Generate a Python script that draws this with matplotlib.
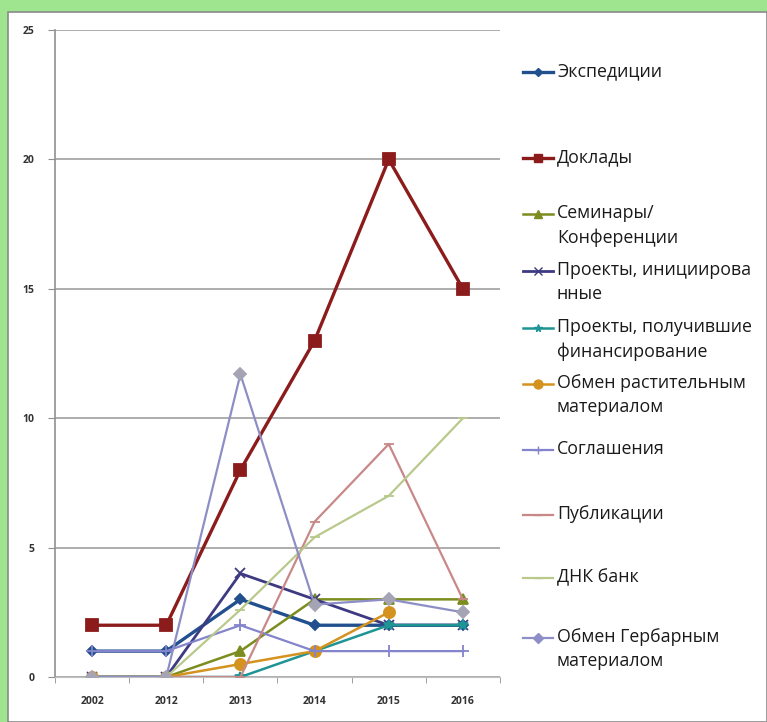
import numpy as np
import matplotlib.pyplot as plt
from matplotlib.patches import Rectangle

plt.rcParams['font.family'] = ['Open Sans', 'DejaVu Sans']

# ---- data
years = ["2002", "2012", "2013", "2014", "2015", "2016"]

expeditions = [1, 1, 3, 2, 2, 2]
reports = [2, 2, 8, 13, 20, 15]
seminars = [0, 0, 1, 3, 3, 3]
projects_init = [0, 0, 4, 3, 2, 2]
projects_funded = [0, 0, 0, 1, 2, 2]
plant_exchange = [0, 0, 0.5, 1, 2.5, np.nan]
agreements = [1, 1, 2, 1, 1, 1]
publications = [0, 0, 0, 6, 9, 3]
dna_bank = [0, 0, 2.6, 5.4, 7, 10]
herbarium_exchange = [0, 0, 11.7, 2.8, 3, 2.5]

series = [
    ("Экспедиции", expeditions, "#22508e", "D", 2.4, 5),
    ("Доклады", reports, "#8c1c1c", "s", 2.4, 8),
    ("Семинары/\nКонференции", seminars, "#7d8c1e", "^", 1.8, 7),
    ("Проекты, инициирова\nнные", projects_init, "#3e3a82", "x", 2.0, 7),
    ("Проекты, получившие\nфинансирование", projects_funded, "#1e9494", "*", 1.8, 7),
    ("Обмен растительным\nматериалом", plant_exchange, "#d4921e", "o", 1.8, 8),
    ("Соглашения", agreements, "#8484cc", "+", 1.6, 8),
    ("Публикации", publications, "#c98888", "_", 1.6, 7),
    ("ДНК банк", dna_bank, "#b9c98c", "_", 1.6, 7),
    ("Обмен Гербарным\nматериалом", herbarium_exchange, "#8e8ec6", "D", 1.6, 6),
]
marker_face = {9: "#a4a4b4"}

# legend key rows (pixel y of first text line)
legend_rows = [72, 158, 214, 271, 328, 384, 450, 515, 578, 638]

W, H = 767, 722
fig = plt.figure(figsize=(W / 100, H / 100), dpi=100)
fig.patch.set_facecolor("#9fe48e")

bg = fig.add_axes([0, 0, 1, 1])
bg.set_xlim(0, W)
bg.set_ylim(H, 0)
bg.axis("off")
bg.add_patch(Rectangle((8, 12), W - 8, H - 12, facecolor="white", edgecolor="#8a8a8a", lw=1.2))

ax = fig.add_axes([55 / W, 1 - 677 / H, 445 / W, 647 / H])
ax.set_facecolor("none")
x = np.arange(len(years))
for i, (name, vals, color, mk, lw, ms) in enumerate(series):
    ax.plot(x, vals, color=color, lw=lw, marker=mk, markersize=ms,
            markerfacecolor=marker_face.get(i, color),
            markeredgecolor=marker_face.get(i, color), markeredgewidth=1.3, zorder=3 + i)

ax.set_xlim(-0.5, len(years) - 0.5)
ax.set_ylim(0, 25)
ax.set_yticks([0, 5, 10, 15, 20, 25])
ax.set_xticks(x)
ax.set_xticklabels(years)
ax.set_xticks(np.arange(-0.5, len(years), 1), minor=True)
ax.tick_params(axis="x", which="major", length=0, pad=14, labelsize=7.5, labelcolor="#333333")
ax.tick_params(axis="x", which="minor", length=4, color="#909090", direction="out")
ax.tick_params(axis="y", length=5, color="#909090", pad=10, labelsize=7.5, labelcolor="#333333")
for lab in ax.get_xticklabels() + ax.get_yticklabels():
    lab.set_fontweight("bold")
ax.grid(axis="y", color="#a0a0a0", lw=1.2)
ax.set_axisbelow(True)
for s in ["top", "right"]:
    ax.spines[s].set_visible(False)
ax.spines["left"].set_color("#909090")
ax.spines["bottom"].set_color("#c0c0c0")
ax.spines["left"].set_linewidth(1.2)

# legend
for (name, vals, color, mk, lw, ms), yk in zip(series, legend_rows):
    bg.plot([523, 538, 553], [yk, yk, yk], color=color, lw=lw, marker=mk, markevery=[1],
            markersize=ms * 0.8, markerfacecolor=color, markeredgecolor=color)
    bg.text(557, yk - 10, name, va="top", ha="left", fontsize=12.8, color="#1a1a1a",
            linespacing=1.45)

fig.savefig("out.png", dpi=100, facecolor=fig.get_facecolor())
